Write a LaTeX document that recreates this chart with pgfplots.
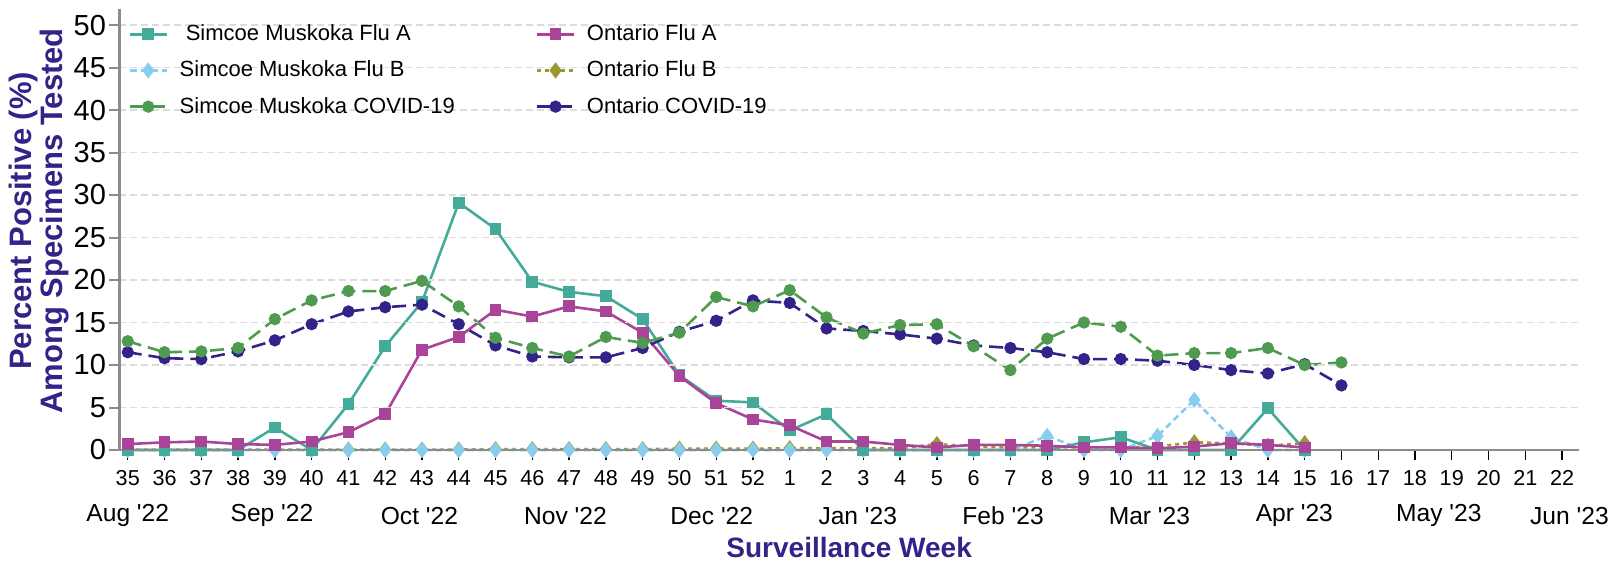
\documentclass[border=0pt]{standalone}
\usepackage{pgfplots}
\pgfplotsset{compat=1.18}
\usepackage{fontspec}
\setmainfont{Liberation Sans}
\definecolor{smA}{HTML}{44AA99}
\definecolor{smB}{HTML}{88CCEE}
\definecolor{smC}{HTML}{4E9A4E}
\definecolor{onA}{HTML}{AA4499}
\definecolor{onB}{HTML}{999933}
\definecolor{onC}{HTML}{332288}
\definecolor{axgray}{HTML}{8C8C8C}
\definecolor{gridgray}{HTML}{DCDCDC}
\newcommand{\q}{\textquotesingle}
\tikzset{mlab/.style={font=\fontsize{12.3}{14}\selectfont, anchor=center, yshift=-32.8pt}}
\pgfplotsset{
  sA/.style={smA, line width=1.3pt, mark=square*, mark size=2.3pt, mark options={solid}},
  oA/.style={onA, line width=1.3pt, mark=square*, mark size=2.3pt, mark options={solid}},
  sB/.style={smB, line width=1.3pt, dash pattern=on 3.3pt off 2pt, mark=diamond*, mark size=3pt, mark options={solid}},
  oB/.style={onB, line width=1.3pt, dash pattern=on 2pt off 2pt, mark=diamond*, mark size=3pt, mark options={solid}},
  sC/.style={smC, line width=1.3pt, dash pattern=on 7pt off 3.5pt, mark=*, mark size=2.4pt, mark options={solid}},
  oC/.style={onC, line width=1.3pt, dash pattern=on 7pt off 3.5pt, mark=*, mark size=2.4pt, mark options={solid}},
}
\begin{document}
\begin{tikzpicture}
\useasboundingbox (-59.65pt,-56pt) rectangle (749.85pt,225pt);
\begin{axis}[
  at={(0,0)}, anchor=south west,
  scale only axis, width=729.85pt, height=220.35pt,
  xmin=-0.23, xmax=39.46, ymin=0, ymax=51.85,
  axis x line*=bottom, axis y line*=left,
  axis line style={axgray, line width=1.4pt, -},
  axis on top, clip=false,
  xtick={0,...,39},
  xticklabels={35,36,37,38,39,40,41,42,43,44,45,46,47,48,49,50,51,52,1,2,3,4,5,6,7,8,9,10,11,12,13,14,15,16,17,18,19,20,21,22},
  ytick={0,5,...,50},
  tick align=outside,
  major tick length=5pt,
  xtick style={black, line width=0.7pt},
  ytick style={axgray, line width=1pt},
  ymajorgrids,
  major grid style={gridgray, line width=0.7pt, dash pattern=on 3.3pt off 2.2pt},
  /pgf/number format/assume math mode=true,
  xticklabel style={font=\fontsize{10.8}{12}\selectfont, yshift=-1.6pt},
  yticklabel style={font=\fontsize{14.5}{16}\selectfont, inner xsep=1.5pt},
  xlabel={Surveillance Week},
  xlabel style={font=\bfseries\fontsize{14}{16}\selectfont, text=onC, at={(axis description cs:0.5,0)}, anchor=center, yshift=-48.8pt},
  ylabel={Percent Positive (\%)\\Among Specimens Tested},
  ylabel style={font=\bfseries\fontsize{15.5}{14.2}\selectfont, text=onC, align=center, at={(axis description cs:-0.055,0.52)}, anchor=center},
  legend columns=2,
  legend cell align=left,
  legend style={draw=none, fill=none, at={(axis description cs:0,1)}, anchor=north west, xshift=4.5pt, yshift=-5.6pt,
    font=\fontsize{11}{13}\selectfont, inner sep=0pt, row sep=4.6pt,
    /tikz/every even column/.append style={column sep=38.6pt}},
  legend image code/.code={\draw[mark repeat=2,mark phase=2] plot coordinates {(0pt,0pt) (9.15pt,0pt) (18.3pt,0pt)}; \path (22.2pt,0pt);},
]
% drawing order: Ontario Flu B, Simcoe Flu B, Simcoe Flu A, Ontario Flu A, COVID series
\addplot[oB, forget plot] coordinates {
(0,0.05) (1,0.05) (2,0.05) (3,0.05) (4,0.05) (5,0.05) (6,0.05) (7,0.05) (8,0.05) (9,0.05) (10,0.1) (11,0.1) (12,0.1) (13,0.1) (14,0.1) (15,0.15) (16,0.15) (17,0.15) (18,0.2) (19,0.2) (20,0.2) (21,0.2) (22,0.7) (23,0.4) (24,0.3) (25,0.3) (26,0.3) (27,0.3) (28,0.4) (29,0.9) (30,0.8) (31,0.5) (32,0.8)};
\addplot[sB, forget plot] coordinates {
(0,0) (1,0) (2,0) (3,0) (4,0) (5,0) (6,0) (7,0) (8,0) (9,0) (10,0) (11,0) (12,0) (13,0) (14,0) (15,0) (16,0) (17,0) (18,0) (19,0) (20,0) (21,0) (22,0) (23,0) (24,0) (25,1.65) (26,0) (27,0) (28,1.65) (29,5.9) (30,1.5) (31,0) (32,0)};
\addplot[sA, forget plot] coordinates {
(0,0) (1,0) (2,0) (3,0) (4,2.65) (5,0) (6,5.4) (7,12.2) (8,17.4) (9,29.1) (10,26.0) (11,19.8) (12,18.6) (13,18.1) (14,15.4) (15,8.8) (16,5.8) (17,5.6) (18,2.3) (19,4.2) (20,0) (21,0) (22,0) (23,0) (24,0) (25,0) (26,0.9) (27,1.5) (28,0) (29,0) (30,0) (31,4.9) (32,0)};
\addplot[oA, forget plot] coordinates {
(0,0.7) (1,0.9) (2,1.0) (3,0.7) (4,0.6) (5,1.0) (6,2.1) (7,4.2) (8,11.8) (9,13.3) (10,16.5) (11,15.7) (12,16.9) (13,16.3) (14,13.8) (15,8.7) (16,5.5) (17,3.6) (18,2.9) (19,1.0) (20,1.0) (21,0.6) (22,0.3) (23,0.6) (24,0.6) (25,0.5) (26,0.3) (27,0.3) (28,0.2) (29,0.4) (30,0.8) (31,0.6) (32,0.3)};
\addplot[oC, forget plot] coordinates {
(0,11.5) (1,10.8) (2,10.7) (3,11.6) (4,12.9) (5,14.8) (6,16.3) (7,16.8) (8,17.1) (9,14.8) (10,12.3) (11,11.0) (12,10.9) (13,10.9) (14,12.0) (15,13.9) (16,15.2) (17,17.6) (18,17.3) (19,14.3) (20,14.0) (21,13.6) (22,13.1) (23,12.3) (24,12.0) (25,11.5) (26,10.7) (27,10.7) (28,10.5) (29,10.0) (30,9.4) (31,9.0) (32,10.1) (33,7.6)};
\addplot[sC, forget plot] coordinates {
(0,12.8) (1,11.5) (2,11.6) (3,12.0) (4,15.4) (5,17.6) (6,18.7) (7,18.7) (8,19.9) (9,16.9) (10,13.2) (11,12.0) (12,11.0) (13,13.3) (14,12.6) (15,13.8) (16,18.0) (17,16.9) (18,18.8) (19,15.6) (20,13.7) (21,14.7) (22,14.8) (23,12.2) (24,9.4) (25,13.1) (26,15.0) (27,14.5) (28,11.1) (29,11.4) (30,11.4) (31,12.0) (32,10.0) (33,10.3)};
\addlegendimage{sA}
\addlegendentry{\ Simcoe Muskoka Flu A}
\addlegendimage{oA}
\addlegendentry{Ontario Flu A}
\addlegendimage{sB}
\addlegendentry{Simcoe Muskoka Flu B}
\addlegendimage{oB}
\addlegendentry{Ontario Flu B}
\addlegendimage{sC}
\addlegendentry{Simcoe Muskoka COVID-19}
\addlegendimage{oC}
\addlegendentry{Ontario COVID-19}
\node[mlab] at (axis cs:0,0) {Aug \q22};
\node[mlab] at (axis cs:3.92,0) {Sep \q22};
\node[mlab] at (axis cs:7.93,0) {Oct \q22};
\node[mlab] at (axis cs:11.9,0) {Nov \q22};
\node[mlab] at (axis cs:15.88,0) {Dec \q22};
\node[mlab] at (axis cs:19.85,0) {Jan \q23};
\node[mlab] at (axis cs:23.8,0) {Feb \q23};
\node[mlab] at (axis cs:27.78,0) {Mar \q23};
\node[mlab] at (axis cs:31.72,0) {Apr \q23};
\node[mlab] at (axis cs:35.65,0) {May \q23};
\node[mlab] at (axis cs:39.2,0) {Jun \q23};
\end{axis}
\end{tikzpicture}
\end{document}
